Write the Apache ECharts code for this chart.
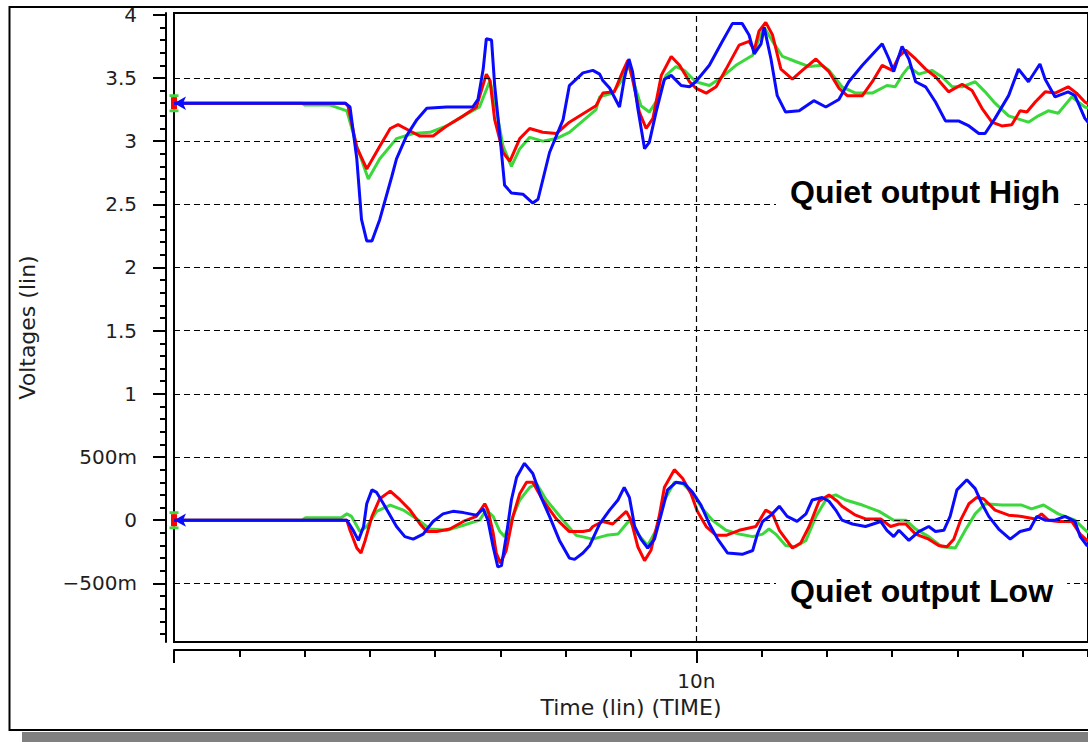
<!DOCTYPE html>
<html>
<head>
<meta charset="utf-8">
<style>
  html, body { margin: 0; padding: 0; background: #ffffff; }
  #chart { width: 1088px; height: 742px; }
</style>
<script src="https://cdn.jsdelivr.net/npm/echarts@6/dist/echarts.min.js"></script>
</head>
<body>
<div id="chart"></div>
<script>
// ---- axis definitions (time in ns, voltage in V) ----
const T_MIN = 0, T_MAX = 17.5;
const Y_MIN = -0.964, Y_MAX = 4.014;
const Y_TICKS = [-0.5, 0, 0.5, 1, 1.5, 2, 2.5, 3, 3.5, 4];
const Y_TICK_LABELS = ['\u2212500m', '0', '500m', '1', '1.5', '2', '2.5', '3', '3.5', '4'];
const Y_GRID = [-0.5, 0.5, 1, 1.5, 2, 2.5, 3, 3.5];
const Y_ZERO_GRID = [0];
const X_MAJOR_TICKS = [0, 10];
const X_LABEL_TICKS = [10];
const X_TICK_LABELS = ['10n'];
const X_MINOR_TICKS = [1.25, 2.5, 3.75, 5, 6.25, 7.5, 8.75, 11.25, 12.5, 13.75, 15, 16.25, 17.5];
const X_GRID = [10];
const Y_MINOR_TICKS = [];
for (let k = -9; k <= 40; k++) Y_MINOR_TICKS.push(k / 10);

// ---- traces: [time (ns), voltage (V)] ----
const HIGH_GREEN = [[0,3.3],[2.45,3.3],[2.51,3.285],[2.99,3.285],[3.31,3.24],[3.50,2.96],[3.72,2.70],[3.94,2.86],[4.26,3.02],[4.58,3.06],[4.90,3.07],[5.22,3.12],[5.54,3.20],[5.85,3.27],[6.05,3.48],[6.17,3.25],[6.30,2.96],[6.46,2.80],[6.62,2.94],[6.81,3.03],[7.06,3.00],[7.32,3.02],[7.57,3.07],[8.08,3.25],[8.15,3.35],[8.40,3.38],[8.59,3.49],[8.69,3.62],[8.82,3.44],[8.94,3.28],[9.10,3.23],[9.23,3.31],[9.42,3.52],[9.61,3.59],[9.77,3.56],[9.99,3.47],[10.25,3.44],[10.50,3.51],[10.76,3.60],[11.08,3.68],[11.20,3.81],[11.30,3.90],[11.46,3.79],[11.65,3.67],[11.90,3.63],[12.16,3.59],[12.41,3.60],[12.54,3.56],[12.79,3.43],[13.05,3.38],[13.37,3.38],[13.65,3.44],[13.81,3.43],[13.94,3.52],[14.07,3.59],[14.26,3.53],[14.51,3.56],[14.70,3.51],[14.90,3.43],[15.09,3.43],[15.34,3.47],[15.53,3.39],[15.72,3.30],[15.98,3.20],[16.36,3.15],[16.55,3.20],[16.74,3.24],[16.93,3.22],[17.19,3.35],[17.44,3.27],[17.6,3.25]];
const HIGH_RED = [[0,3.3],[3.28,3.3],[3.33,3.28],[3.50,2.95],[3.69,2.78],[3.94,2.96],[4.14,3.10],[4.29,3.13],[4.52,3.08],[4.71,3.04],[4.96,3.04],[5.22,3.12],[5.54,3.20],[5.79,3.27],[5.98,3.53],[6.05,3.48],[6.14,3.17],[6.30,2.91],[6.43,2.84],[6.62,3.02],[6.81,3.10],[7.06,3.07],[7.32,3.06],[7.57,3.15],[8.08,3.28],[8.21,3.38],[8.43,3.39],[8.59,3.55],[8.69,3.64],[8.78,3.49],[8.91,3.23],[9.04,3.10],[9.17,3.18],[9.33,3.52],[9.52,3.67],[9.68,3.60],[9.87,3.47],[9.99,3.42],[10.19,3.38],[10.38,3.43],[10.57,3.57],[10.82,3.76],[11.01,3.79],[11.11,3.72],[11.20,3.87],[11.33,3.94],[11.46,3.84],[11.62,3.57],[11.84,3.49],[12.03,3.56],[12.29,3.65],[12.41,3.60],[12.54,3.55],[12.73,3.42],[12.89,3.36],[13.18,3.36],[13.37,3.47],[13.56,3.60],[13.75,3.56],[13.88,3.67],[14.01,3.72],[14.20,3.65],[14.39,3.57],[14.58,3.51],[14.83,3.39],[15.09,3.45],[15.28,3.40],[15.47,3.26],[15.66,3.15],[15.85,3.12],[16.04,3.13],[16.20,3.24],[16.33,3.23],[16.49,3.31],[16.68,3.39],[16.87,3.38],[17.12,3.43],[17.28,3.38],[17.44,3.31],[17.6,3.27]];
const HIGH_BLUE = [[0,3.3],[3.28,3.3],[3.37,3.27],[3.50,2.86],[3.59,2.38],[3.69,2.21],[3.79,2.21],[3.94,2.38],[4.17,2.72],[4.26,2.86],[4.45,3.04],[4.65,3.17],[4.84,3.26],[5.22,3.27],[5.72,3.27],[5.82,3.33],[5.92,3.57],[5.98,3.81],[6.08,3.80],[6.14,3.44],[6.24,3.04],[6.33,2.65],[6.46,2.59],[6.68,2.58],[6.87,2.51],[6.97,2.54],[7.19,2.91],[7.45,3.17],[7.57,3.44],[7.83,3.54],[8.02,3.56],[8.15,3.53],[8.21,3.48],[8.34,3.42],[8.53,3.27],[8.62,3.49],[8.71,3.65],[8.78,3.55],[8.88,3.26],[9.01,2.94],[9.10,2.99],[9.23,3.23],[9.39,3.49],[9.52,3.52],[9.71,3.44],[9.87,3.43],[9.99,3.47],[10.25,3.60],[10.50,3.79],[10.69,3.93],[10.88,3.93],[11.01,3.84],[11.11,3.69],[11.24,3.77],[11.30,3.90],[11.43,3.65],[11.55,3.36],[11.71,3.23],[11.97,3.24],[12.25,3.32],[12.48,3.27],[12.73,3.33],[12.92,3.47],[13.18,3.60],[13.56,3.77],[13.69,3.65],[13.78,3.55],[13.94,3.75],[14.07,3.65],[14.20,3.47],[14.39,3.43],[14.58,3.31],[14.77,3.16],[15.02,3.16],[15.22,3.12],[15.41,3.06],[15.53,3.06],[15.72,3.18],[15.98,3.36],[16.17,3.57],[16.36,3.47],[16.58,3.61],[16.68,3.49],[16.87,3.35],[17.12,3.39],[17.25,3.36],[17.44,3.18],[17.6,3.10]];

const LOW_GREEN = [[0,0],[2.45,0],[2.52,0.02],[3.20,0.02],[3.31,0.05],[3.40,0.03],[3.56,-0.09],[3.69,-0.05],[3.88,0.07],[4.14,0.12],[4.39,0.08],[4.65,0.01],[4.90,-0.07],[5.22,-0.08],[5.54,-0.04],[5.85,0],[5.98,0.08],[6.11,0.03],[6.24,-0.09],[6.33,-0.13],[6.46,0],[6.62,0.16],[6.81,0.26],[6.94,0.29],[7.13,0.16],[7.45,0],[7.70,-0.12],[8.02,-0.15],[8.28,-0.12],[8.50,-0.11],[8.72,0],[8.88,-0.11],[9.07,-0.20],[9.23,-0.08],[9.39,0.16],[9.58,0.30],[9.74,0.29],[9.93,0.21],[10.12,0.09],[10.31,0],[10.57,-0.08],[10.82,-0.11],[11.08,-0.13],[11.27,-0.11],[11.39,-0.07],[11.52,-0.11],[11.71,-0.20],[11.90,-0.21],[12.10,-0.16],[12.29,0.03],[12.51,0.18],[12.67,0.20],[12.86,0.16],[13.18,0.12],[13.50,0.07],[13.78,0],[14.01,0],[14.20,-0.07],[14.45,-0.13],[14.70,-0.21],[14.96,-0.22],[15.15,-0.08],[15.34,0.05],[15.53,0.13],[15.85,0.12],[16.23,0.12],[16.42,0.09],[16.65,0.12],[16.93,0.05],[17.25,0],[17.48,-0.09],[17.6,-0.11]];
const LOW_RED = [[0,0],[3.31,0],[3.37,-0.08],[3.50,-0.22],[3.58,-0.26],[3.66,-0.16],[3.79,0.03],[3.94,0.17],[4.14,0.23],[4.33,0.16],[4.52,0.08],[4.71,-0.03],[4.84,-0.09],[5.03,-0.09],[5.28,-0.07],[5.54,-0.01],[5.79,0.03],[5.95,0.13],[6.01,0.08],[6.11,-0.10],[6.17,-0.26],[6.25,-0.34],[6.36,-0.24],[6.49,0.03],[6.62,0.21],[6.75,0.30],[6.87,0.30],[7.06,0.16],[7.32,0.01],[7.57,-0.09],[7.83,-0.09],[7.96,-0.08],[8.02,-0.05],[8.21,-0.01],[8.40,-0.03],[8.66,0.07],[8.75,0],[8.88,-0.21],[9.01,-0.32],[9.13,-0.24],[9.29,0.03],[9.39,0.26],[9.58,0.40],[9.74,0.33],[9.90,0.21],[10.02,0.07],[10.19,-0.05],[10.38,-0.12],[10.57,-0.12],[10.82,-0.08],[11.14,-0.05],[11.33,0.08],[11.46,0.05],[11.59,-0.08],[11.84,-0.22],[12.00,-0.18],[12.16,-0.05],[12.35,0.15],[12.54,0.20],[12.70,0.15],[12.79,0.11],[13.05,0.04],[13.24,0.01],[13.53,0.01],[13.72,-0.05],[13.88,-0.03],[14.01,-0.03],[14.20,-0.11],[14.45,-0.15],[14.64,-0.20],[14.80,-0.21],[14.93,-0.15],[15.06,0],[15.22,0.13],[15.37,0.18],[15.50,0.17],[15.72,0.08],[15.98,0.04],[16.23,0.03],[16.49,0.01],[16.61,0.05],[16.74,0],[16.93,-0.01],[17.19,-0.01],[17.35,-0.11],[17.48,-0.16],[17.6,-0.19]];
const LOW_BLUE = [[0,0],[3.31,0],[3.43,-0.08],[3.53,-0.16],[3.63,-0.05],[3.69,0.13],[3.79,0.24],[3.88,0.22],[4.01,0.13],[4.26,-0.05],[4.42,-0.13],[4.58,-0.15],[4.77,-0.11],[4.96,-0.01],[5.15,0.05],[5.34,0.07],[5.54,0.06],[5.79,0.04],[5.92,0.09],[6.01,0],[6.11,-0.21],[6.20,-0.37],[6.27,-0.36],[6.36,-0.13],[6.46,0.16],[6.56,0.34],[6.71,0.45],[6.87,0.37],[7.03,0.18],[7.19,0.03],[7.38,-0.16],[7.57,-0.30],[7.67,-0.31],[7.83,-0.26],[7.96,-0.20],[8.15,-0.03],[8.34,0.08],[8.50,0.16],[8.62,0.26],[8.72,0.18],[8.82,-0.05],[8.94,-0.15],[9.07,-0.22],[9.20,-0.15],[9.33,0.05],[9.45,0.24],[9.61,0.30],[9.77,0.29],[9.93,0.22],[10.09,0.12],[10.25,-0.03],[10.41,-0.15],[10.60,-0.26],[10.88,-0.27],[11.08,-0.24],[11.17,-0.11],[11.27,-0.01],[11.43,0.04],[11.59,0.11],[11.74,0.03],[11.93,-0.01],[12.10,0.05],[12.22,0.16],[12.41,0.18],[12.54,0.15],[12.67,0.08],[12.79,0],[12.99,-0.03],[13.24,-0.05],[13.53,-0.01],[13.65,-0.08],[13.78,-0.13],[13.88,-0.08],[14.07,-0.16],[14.26,-0.09],[14.45,-0.05],[14.58,-0.09],[14.74,-0.08],[14.86,0.03],[14.99,0.24],[15.18,0.32],[15.34,0.25],[15.47,0.13],[15.60,0.03],[15.79,-0.07],[16.01,-0.15],[16.20,-0.09],[16.39,-0.07],[16.52,0.03],[16.68,0],[16.87,0],[17.06,0.03],[17.25,-0.01],[17.35,-0.13],[17.48,-0.20],[17.6,-0.22]];

const ANNOTATIONS = ['Quiet output High', 'Quiet output Low'];

// ---- styling ----
const C_RED = '#ff0000', C_GREEN = '#3ad83a', C_BLUE = '#0a0aff';
const TXT = '#1e1e1e';
const FONT = 'DejaVu Sans';

const M_RED = { symbol: 'rect', symbolSize: [6, 12] };
const M_GREEN = { symbol: 'path://M0,0H10V3H6.5V17H10V20H0V17H3.5V3H0Z', symbolSize: [9, 18] };
const M_BLUE = { symbol: 'arrow', symbolSize: [10, 12], symbolRotate: 90 };

function trace(name, data, color, marker, z) {
  return {
    type: 'line', name: name,
    data: data.map((p, i) => i === 0 ? Object.assign({ value: p }, marker) : p),
    symbol: 'none', showSymbol: true, showAllSymbol: true,
    lineStyle: { color: color, width: 3 },
    itemStyle: { color: color },
    z: z, silent: true, animation: false, clip: true
  };
}

function yLabel(v) {
  const i = Y_TICKS.findIndex(t => Math.abs(t - v) < 1e-6);
  return i >= 0 ? Y_TICK_LABELS[i] : '';
}
function xLabel(v) {
  const i = X_LABEL_TICKS.findIndex(t => Math.abs(t - v) < 1e-6);
  return i >= 0 ? X_TICK_LABELS[i] : '';
}

const dash = { type: [6, 4], color: '#000', width: 1.2 };
const chart = echarts.init(document.getElementById('chart'), null, { renderer: 'svg' });

chart.setOption({
  animation: false,
  backgroundColor: '#ffffff',
  grid: {
    left: 174, right: -2, top: 13, bottom: 100,
    show: true, borderColor: '#000', borderWidth: 2, backgroundColor: 'transparent'
  },
  xAxis: [
    {
      type: 'value', min: T_MIN, max: T_MAX, position: 'bottom', offset: 8,
      name: 'Time (lin) (TIME)', nameLocation: 'middle', nameGap: 46,
      nameTextStyle: { fontFamily: FONT, fontSize: 22, color: TXT },
      axisLine: { show: true, onZero: false, lineStyle: { color: '#000', width: 2 } },
      axisTick: { show: true, customValues: X_MAJOR_TICKS, length: 13, lineStyle: { color: '#000', width: 2 } },
      axisLabel: { show: true, customValues: X_LABEL_TICKS, formatter: xLabel, margin: 21,
        fontFamily: FONT, fontSize: 20, color: TXT },
      splitLine: { show: false }
    },
    {
      type: 'value', min: T_MIN, max: T_MAX, position: 'bottom', offset: 8,
      axisLine: { show: false, onZero: false },
      axisTick: { show: true, customValues: X_MINOR_TICKS, length: 7, lineStyle: { color: '#000', width: 2 } },
      axisLabel: { show: false },
      splitLine: { show: false }
    }
  ],
  yAxis: [
    {
      type: 'value', min: Y_MIN, max: Y_MAX, position: 'left', offset: 8,
      name: 'Voltages (lin)', nameLocation: 'middle', nameGap: 128, nameRotate: 90,
      nameTextStyle: { fontFamily: FONT, fontSize: 22, color: TXT },
      axisLine: { show: true, onZero: false, lineStyle: { color: '#000', width: 2 } },
      axisTick: { show: true, customValues: Y_TICKS, length: 13, lineStyle: { color: '#000', width: 2 } },
      axisLabel: { show: true, customValues: Y_TICKS, formatter: yLabel, margin: 29,
        fontFamily: FONT, fontSize: 20, color: TXT },
      splitLine: { show: false }
    },
    {
      type: 'value', min: Y_MIN, max: Y_MAX, position: 'left', offset: 8,
      axisLine: { show: false, onZero: false },
      axisTick: { show: true, customValues: Y_MINOR_TICKS, length: 6, lineStyle: { color: '#000', width: 2 } },
      axisLabel: { show: false },
      splitLine: { show: false }
    }
  ],
  series: [
    {
      type: 'line', data: [], z: 1, silent: true, animation: false,
      markLine: {
        silent: true, animation: false, symbol: ['none', 'none'],
        label: { show: false }, lineStyle: dash,
        data: Y_GRID.concat(Y_ZERO_GRID).map(v => ({ yAxis: v })).concat(X_GRID.map(v => ({ xAxis: v })))
      }
    },
    trace('high_green', HIGH_GREEN, C_GREEN, M_GREEN, 3),
    trace('high_red', HIGH_RED, C_RED, M_RED, 4),
    trace('high_blue', HIGH_BLUE, C_BLUE, M_BLUE, 5),
    trace('low_green', LOW_GREEN, C_GREEN, M_GREEN, 3),
    trace('low_red', LOW_RED, C_RED, M_RED, 4),
    trace('low_blue', LOW_BLUE, C_BLUE, M_BLUE, 5)
  ],
  graphic: [
    { type: 'rect', z: -10, silent: true,
      shape: { x: 9.5, y: 7, width: 1200, height: 723 },
      style: { fill: 'none', stroke: '#000', lineWidth: 2 } },
    { type: 'rect', z: -10, silent: true,
      shape: { x: 22, y: 732, width: 1100, height: 12 },
      style: { fill: '#808080' } },
    { type: 'text', z: 100, silent: true, left: 776, top: 174,
      style: { text: ANNOTATIONS[0], font: 'bold 32px "Liberation Sans", Arial, sans-serif',
        fill: '#000', backgroundColor: '#fff', padding: [2, 14, 2, 14] } },
    { type: 'text', z: 100, silent: true, left: 776, top: 573,
      style: { text: ANNOTATIONS[1], font: 'bold 32px "Liberation Sans", Arial, sans-serif',
        fill: '#000', backgroundColor: '#fff', padding: [2, 14, 2, 14] } }
  ]
});
</script>
</body>
</html>
